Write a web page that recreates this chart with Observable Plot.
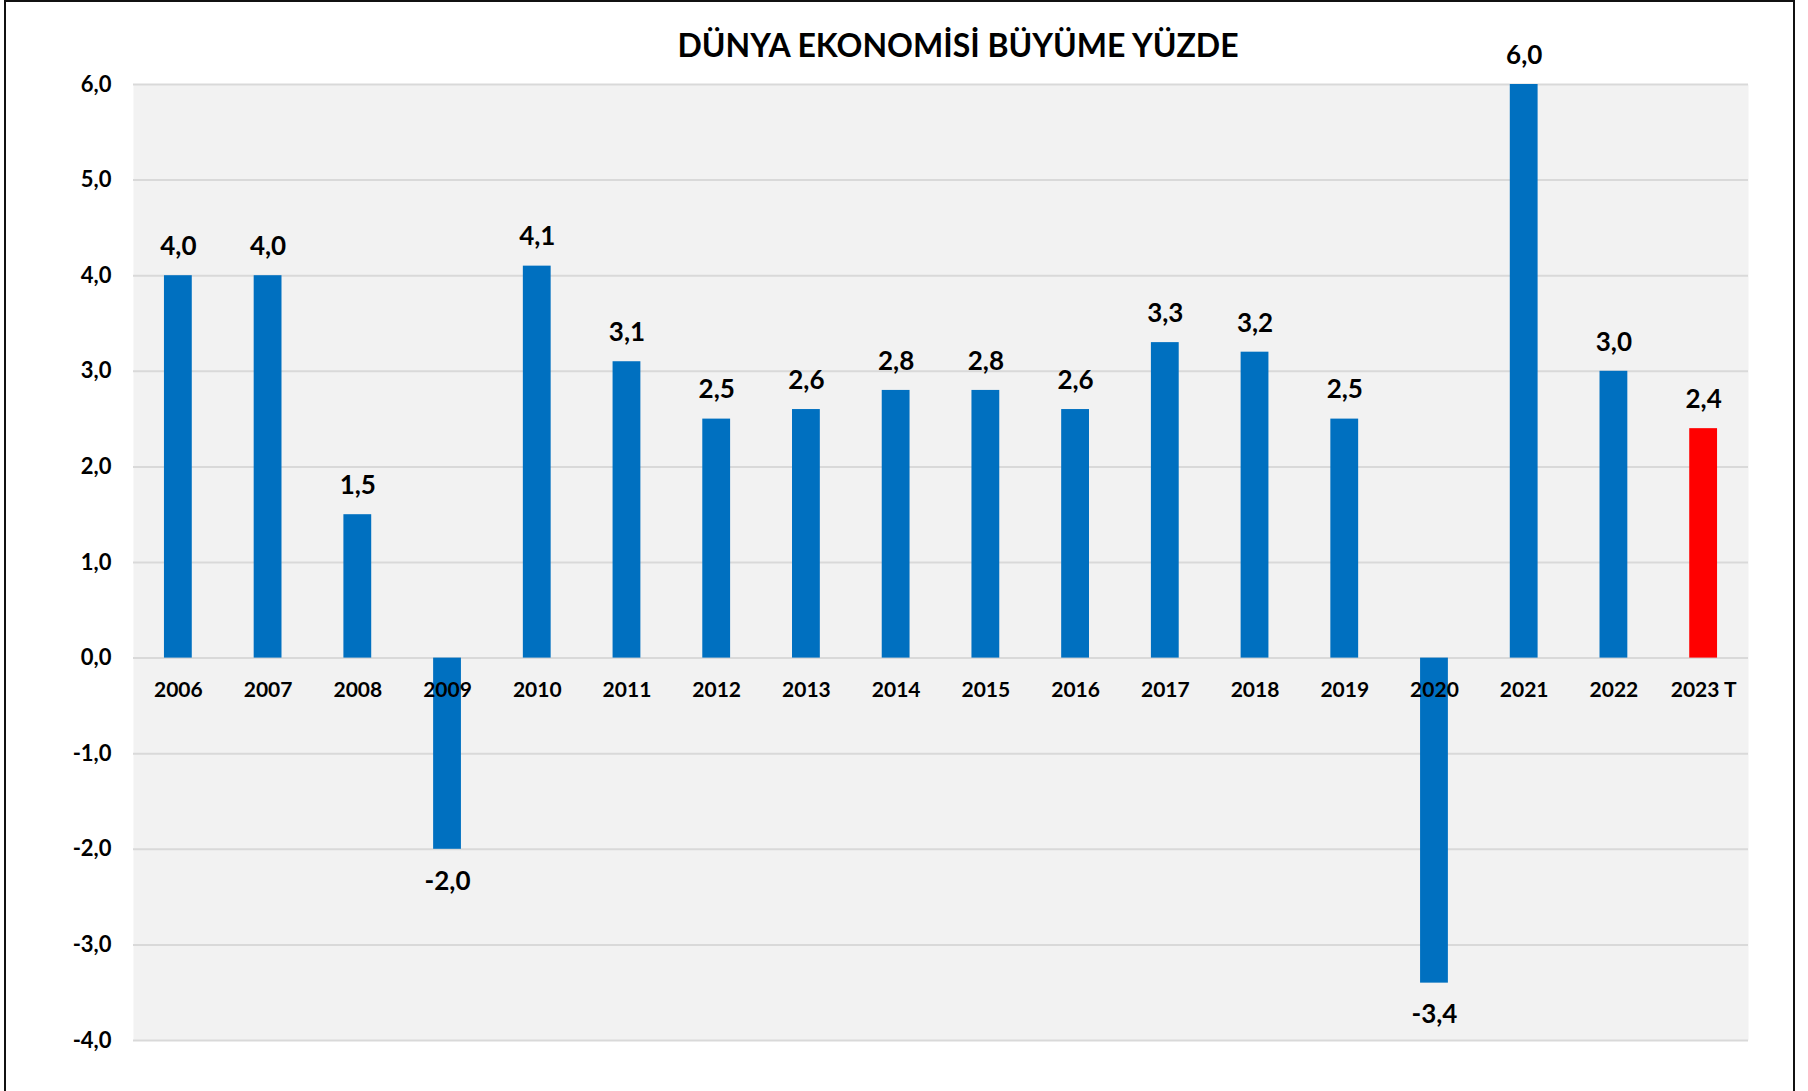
<!DOCTYPE html>
<html>
<head>
<meta charset="utf-8">
<script src="https://cdn.jsdelivr.net/npm/d3@7"></script>
<script src="https://cdn.jsdelivr.net/npm/@observablehq/plot@0.6"></script>
<style>
  html, body { margin: 0; padding: 0; background: #fff; }
  #wrap { position: relative; width: 1808px; height: 1091px; overflow: hidden; font-family: Lato, "Open Sans", sans-serif; }
  #border { position: absolute; left: 4px; top: 0px; width: 1791px; height: 1200px; border: 2px solid #111; box-sizing: border-box; pointer-events: none; }
  #title { position: absolute; left: 0; width: 1808px; top: 25px; text-align: center; padding-left: 108px; box-sizing: border-box;
           font-family: Lato, sans-serif; font-weight: 700; font-size: 32px; line-height: 40px; color: #000; margin: 0; }
  svg { position: absolute; left: 0; top: 0; }
</style>
</head>
<body>
<div id="wrap">
  <div id="title">DÜNYA EKONOMİSİ BÜYÜME YÜZDE</div>
  <div id="chart"></div>
  <div id="border"></div>
</div>
<script>
const years = ["2006","2007","2008","2009","2010","2011","2012","2013","2014","2015","2016","2017","2018","2019","2020","2021","2022","2023 T"];
const growth = [4.0, 4.0, 1.5, -2.0, 4.1, 3.1, 2.5, 2.6, 2.8, 2.8, 2.6, 3.3, 3.2, 2.5, -3.4, 6.0, 3.0, 2.4];
const forecastYear = "2023 T";
const yTicks = [-4, -3, -2, -1, 0, 1, 2, 3, 4, 5, 6];

const data = years.map((year, i) => ({year, value: growth[i]}));
const fmt = v => v.toFixed(1).replace(".", ",");
const font = "Lato, 'Open Sans', sans-serif";

const chart = Plot.plot({
  width: 1808,
  height: 1091,
  marginLeft: 133,
  marginRight: 60,
  marginTop: 84,
  marginBottom: 51,
  style: {fontFamily: font, background: "transparent", color: "#000"},
  x: {domain: years, paddingInner: 0.69, paddingOuter: 0.345, round: false, axis: null},
  y: {domain: [-4, 6], axis: null},
  color: {type: "identity"},
  marks: [
    Plot.frame({fill: "#f2f2f2", stroke: null}),
    Plot.ruleY(yTicks, {stroke: "#d9d9d9", strokeWidth: 2}),
    Plot.axisY(yTicks, {label: null, tickSize: 0, tickPadding: 22, tickFormat: fmt, fontSize: 22, fontWeight: "bold", fill: "#000"}),
    Plot.barY(data, {x: "year", y: "value", fill: d => d.year === forecastYear ? "#ff0000" : "#0070c0"}),
    Plot.text(data, {x: "year", y: () => 0, text: "year", dy: 32, fontSize: 21, fontWeight: "bold", fill: "#000"}),
    Plot.text(data.filter(d => d.value >= 0), {x: "year", y: "value", text: d => fmt(d.value), dy: -29, fontSize: 26, fontWeight: "bold", fill: "#000"}),
    Plot.text(data.filter(d => d.value < 0), {x: "year", y: "value", text: d => fmt(d.value), dy: 32, fontSize: 26, fontWeight: "bold", fill: "#000"})
  ]
});
document.getElementById("chart").appendChild(chart);
</script>
</body>
</html>
